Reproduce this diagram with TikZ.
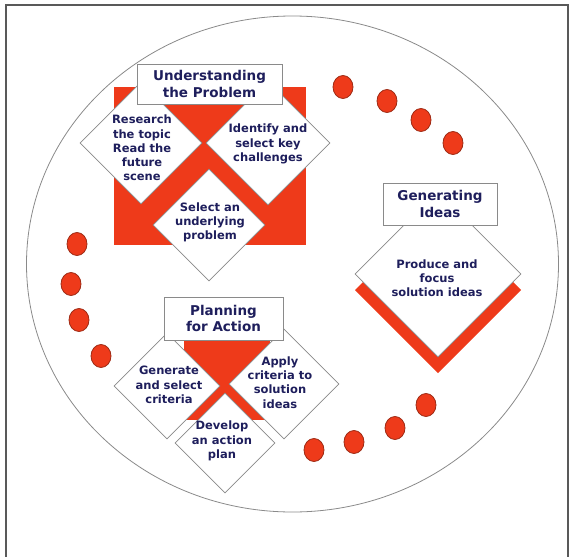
\documentclass[tikz,border=0pt]{standalone}
\usepackage{fontspec}
\setmainfont{DejaVu Sans}
\usetikzlibrary{shapes.geometric}
\definecolor{stepred}{HTML}{EE3A1A}
\definecolor{dotrim}{HTML}{9C2A14}
\definecolor{inkblue}{HTML}{1E1E5C}
\definecolor{rimgray}{HTML}{8A8A8A}

\begin{document}
\begin{tikzpicture}[x=1pt,y=-1pt,
            card/.style={diamond,draw=rimgray,fill=white,line width=0.6pt,inner sep=0pt,minimum size=#1},
            body/.style={text=inkblue,align=center,inner sep=0pt,font=\bfseries\fontsize{11.5}{14.2}\selectfont},
            heading/.style={draw=rimgray,fill=white,line width=0.7pt,inner sep=0pt,text=inkblue,align=center,font=\bfseries\fontsize{13.5}{16.5}\selectfont},
            spot/.style={fill=stepred,draw=dotrim,line width=0.8pt}]
            \useasboundingbox (0,0) rectangle (574,557);
            \draw[black!65,line width=1.2pt] (6,557) -- (6,5) -- (568,5) -- (568,557);
            \draw[rimgray,line width=0.8pt] (292.5,264) ellipse [x radius=266, y radius=248];
            % dots round the ring
            \foreach \x/\y in {343/87, 387/101, 421/120, 453/143, 77/244, 71/284, 79/320, 101/356, 314/450, 354/442, 395/428, 426/405}{
                \draw[spot] (\x,\y) ellipse [x radius=10, y radius=11.5];
            }
            % understanding the problem
            \fill[stepred] (114,87) rectangle (306,245);
            \node[card=122] (research) at (141,143) {};
            \node[card=124] (identify) at (268,143) {};
            \node[card=112] (underlying) at (209,225) {};
            \node[heading,minimum width=145,minimum height=40] (understand) at (209.5,84) {Understanding\\the Problem};
            \node[body] (researchtxt) at (142,148) {Research\\the topic\\Read the\\future\\scene};
            \node[body] (identifytxt) at (268,144) {Identify and\\select key\\challenges};
            \node[body] (underlyingtxt) at (210,222.5) {Select an\\underlying\\problem};
            % generating ideas
            \fill[stepred] (363,282) -- (438,357) -- (513,282) -- (521,290) -- (438,373) -- (355,290) -- cycle;
            \node[card=166] (produce) at (438,274) {};
            \node[heading,minimum width=114,minimum height=42] (generate) at (440,204) {Generating\\Ideas};
            \node[body] (producetxt) at (437,278) {Produce and\\focus\\solution ideas};
            % planning for action
            \fill[stepred] (184,340) rectangle (270,420);
            \node[card=106] (criteria) at (167,386) {};
            \node[card=110] (apply) at (284,384) {};
            \node[card=100] (develop) at (225,443) {};
            \node[heading,minimum width=119,minimum height=43] (planning) at (223.5,318.5) {Planning\\for Action};
            \node[body] (criteriatxt) at (169,385) {Generate\\and select\\criteria};
            \node[body] (applytxt) at (280,382.5) {Apply\\criteria to\\solution\\ideas};
            \node[body] (developtxt) at (222,441) {Develop\\an action\\plan};
        \end{tikzpicture}
\end{document}
